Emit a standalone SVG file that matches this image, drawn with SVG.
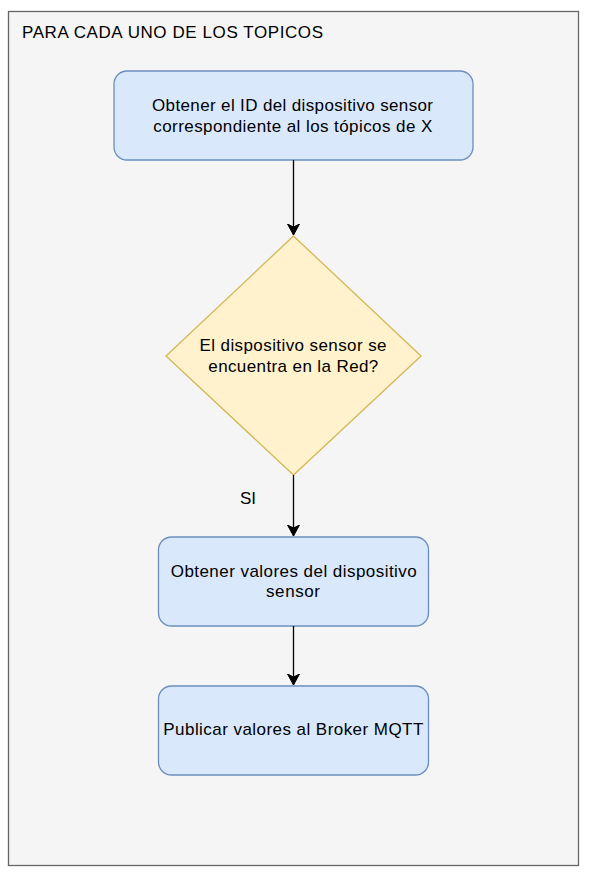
<svg xmlns="http://www.w3.org/2000/svg" width="592" height="874" viewBox="0 0 592 874">
<style>
text{font-family:"Liberation Sans",Arial,sans-serif;font-size:17px;fill:#000}
.c{text-anchor:middle}
.box{fill:#dae8fc;stroke:#6c8ebf;stroke-width:1.3}
.dia{fill:#fff2cc;stroke:#d6b656;stroke-width:1.3}
.edge{stroke:#000;stroke-width:1.3;fill:none}
</style>
<defs>
<marker id="arr" markerWidth="12" markerHeight="14" refX="11" refY="6" orient="auto" markerUnits="userSpaceOnUse">
<path d="M0,0 L11,6 L0,12 L3,6 Z" fill="#000" stroke="#000" stroke-width="1"/>
</marker>
</defs>
<g id="container">
<rect x="8.5" y="11.5" width="570" height="854" fill="#f5f5f5" stroke="#666666" stroke-width="1.3"/>
<text x="22" y="38" textLength="301" lengthAdjust="spacing">PARA CADA UNO DE LOS TOPICOS</text>
</g>
<g id="n1">
<rect class="box" x="114" y="71" width="359" height="89" rx="13"/>
<text class="c" x="292.5" y="110.5" textLength="281" lengthAdjust="spacing">Obtener el ID del dispositivo sensor</text>
<text class="c" x="292.8" y="131.5" textLength="279" lengthAdjust="spacing">correspondiente al los tópicos de X</text>
</g>
<g id="n2">
<polygon class="dia" points="293.5,236 421,356 293.5,475 166,356"/>
<text class="c" x="293" y="350.5" textLength="187" lengthAdjust="spacing">El dispositivo sensor se</text>
<text class="c" x="293.3" y="371.5" textLength="170" lengthAdjust="spacing">encuentra en la Red?</text>
</g>
<g id="n3">
<rect class="box" x="158.5" y="537" width="270" height="89" rx="13"/>
<text class="c" x="293.7" y="576.5" textLength="246" lengthAdjust="spacing">Obtener valores del dispositivo</text>
<text class="c" x="293" y="596.5" textLength="54" lengthAdjust="spacing">sensor</text>
</g>
<g id="n4">
<rect class="box" x="158.5" y="686" width="270" height="89" rx="13"/>
<text class="c" x="293.3" y="735" textLength="260" lengthAdjust="spacing">Publicar valores al Broker MQTT</text>
</g>
<g id="edges">
<line class="edge" x1="293.5" y1="160" x2="293.5" y2="235" marker-end="url(#arr)"/>
<line class="edge" x1="293.5" y1="475" x2="293.5" y2="536" marker-end="url(#arr)"/>
<text x="240" y="504" textLength="16" lengthAdjust="spacing">SI</text>
<line class="edge" x1="293.5" y1="626" x2="293.5" y2="685" marker-end="url(#arr)"/>
</g>
</svg>
